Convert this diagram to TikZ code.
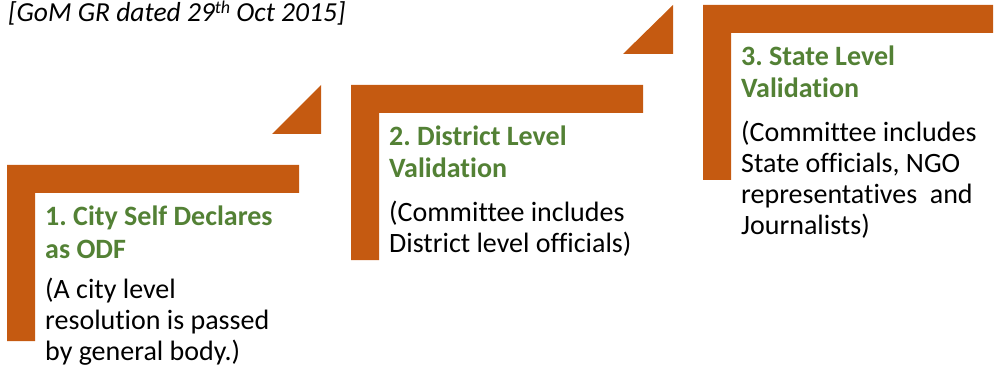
\documentclass[tikz,border=0pt]{standalone}
\usepackage{fontspec}
\setmainfont{Carlito}[Ligatures=NoCommon]
\frenchspacing
\definecolor{stepor}{HTML}{C55A11}
\definecolor{stepgr}{HTML}{538135}
\tikzset{
  bracket/.style={fill=stepor, draw=none},
  riser/.style={fill=stepor, draw=none},
  titletext/.style={anchor=base west, inner sep=0pt, text=stepgr, font=\fontsize{28}{32.5}\selectfont\bfseries},
  bodytext/.style={anchor=base west, inner sep=0pt, text=black, font=\fontsize{28}{31}\selectfont},
}
\newcommand{\stepL}[4]{%
  % #1 x, #2 y, #3 width, #4 height
  \fill[bracket] (#1,#2) -- ++(#3,0) -- ++(0,28) -- ++(-#3+28,0) -- ++(0,#4-28) -- ++(-28,0) -- cycle;
}
\begin{document}
\begin{tikzpicture}[x=1pt,y=-1pt]
\useasboundingbox (0,0) rectangle (995,366);
% header
\node[anchor=base west, inner sep=0pt, font=\fontsize{27.5}{30}\selectfont\itshape] (hdr) at (8,21.5) {[GoM GR dated 29\raisebox{0.3em}{\fontsize{18}{18}\selectfont th} Oct 2015]};
% step shapes
\stepL{7}{165}{292}{176}
\stepL{351}{85}{292}{175}
\stepL{703}{5}{290}{175}
% risers
\fill[riser] (321,85) -- (321,134) -- (272,134) -- cycle;
\fill[riser] (673,5) -- (673,54) -- (623,54) -- cycle;
% texts
\node[titletext] (t1) at (45,225.5) {\begin{tabular}[t]{@{}l@{}}1. City Self Declares\\as ODF\end{tabular}};
\node[bodytext] (b1) at (45,298) {\begin{tabular}[t]{@{}l@{}}(A city level\\resolution is passed\\by general body.)\end{tabular}};
\node[titletext] (t2) at (389,145.5) {\begin{tabular}[t]{@{}l@{}}2. District Level\\Validation\end{tabular}};
\node[bodytext] (b2) at (389,221.7) {\begin{tabular}[t]{@{}l@{}}(Committee includes\\District level officials)\end{tabular}};
\node[titletext] (t3) at (741,65.5) {\begin{tabular}[t]{@{}l@{}}3. State Level\\Validation\end{tabular}};
\node[bodytext] (b3) at (741,141.7) {\begin{tabular}[t]{@{}l@{}}(Committee includes\\State officials, NGO\\representatives~ and\\Journalists)\end{tabular}};
\end{tikzpicture}
\end{document}
